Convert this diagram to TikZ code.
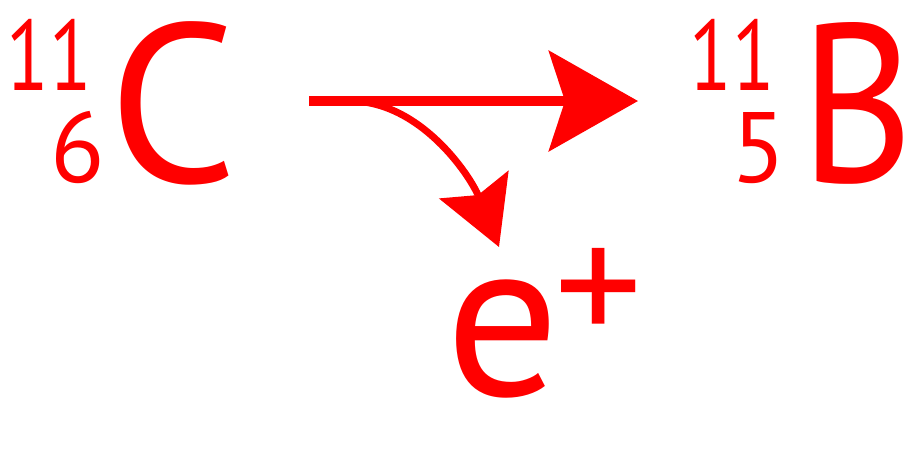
\documentclass[tikz,border=0pt]{standalone}
\usepackage{fontspec}
\setmainfont{PT Sans}
\usetikzlibrary{arrows.meta}
\definecolor{rd}{RGB}{255,0,0}
\tikzset{
  big/.style={inner sep=0pt, text=rd, font=\fontsize{226}{226}\selectfont},
  small/.style={inner sep=0pt, text=rd, font=\fontsize{100}{100}\selectfont},
  mainarrow/.style={draw=rd, line width=10pt, -{Stealth[length=89pt, width=100pt, inset=16pt, fill=rd]}},
  curvearrow/.style={draw=rd, line width=7pt, -{Stealth[length=67pt, width=74pt, inset=11pt, fill=rd]}}
}
\begin{document}
\begin{tikzpicture}[x=1pt,y=-1pt]
\useasboundingbox (0,0) rectangle (917,467);
\node[big, anchor=base west] (c) at (108,182) {C};
\node[small, anchor=base east, xscale=0.78] (ca) at (92,90) {11};
\node[small, anchor=base east] (cz) at (105,182) {6};
\node[big, anchor=base west, xscale=0.86] (b) at (800,182) {B};
\node[small, anchor=base east, xscale=0.78] (ba) at (775,90) {11};
\node[small, anchor=base east] (bz) at (786,182) {5};
\node[big, anchor=base west] (e) at (445,395) {e};
\node[small, anchor=center, font=\fontsize{175}{175}\selectfont] (p) at (599,297) {+};
\coordinate (s) at (309,101);
\coordinate (t) at (638,101);
\coordinate (cs) at (350,101);
\coordinate (ct) at (499,247);
\draw[mainarrow] (s) -- (t);
\draw[curvearrow] (cs) .. controls (420,101) and (470,175) .. (ct);
\end{tikzpicture}
\end{document}
